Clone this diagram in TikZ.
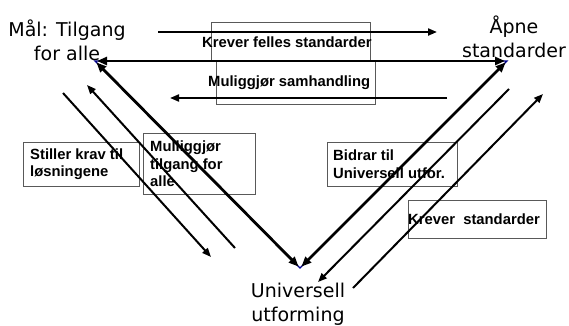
\documentclass[tikz,border=0pt]{standalone}
\usepackage{fontspec}
\setmainfont{Liberation Sans}
\newfontfamily\placefont{DejaVu Sans}
\usetikzlibrary{arrows.meta}

\begin{document}
\begin{tikzpicture}[x=1pt,y=-1pt,
  box/.style={draw=black!65,line width=0.9pt,inner sep=0pt},
  boxtext/.style={anchor=west,align=left,inner sep=0pt,font=\bfseries\fontsize{14.8}{17.5}\selectfont},
  place/.style={align=center,inner sep=0pt,font=\placefont\fontsize{19}{24.5}\selectfont},
  link/.style={line width=2.8pt,shorten <=2pt,shorten >=2pt,
    {Triangle[length=10pt,width=8pt]}-{Triangle[length=10pt,width=8pt]}},
  flow/.style={line width=2pt,-{Triangle[length=9pt,width=7pt]}}]
  \useasboundingbox (0,0) rectangle (569,325);
  \coordinate (maal) at (95,61);
  \coordinate (aapne) at (507,61);
  \coordinate (univ) at (300,268);
  \node[place] (maaltxt) at (67,40.5) {Mål: Tilgang\\for alle};
  \node[place] (aapnetxt) at (514,37) {Åpne\\standarder};
  \node[place] (univtxt) at (298,304) {Universell\\utforming};
  \node[box,minimum width=159pt,minimum height=38pt] (kfs) at (290.5,41) {};
  \node[box,minimum width=159pt,minimum height=43pt] (msh) at (295.5,82.5) {};
  \node[box,minimum width=116pt,minimum height=44pt] (skl) at (81,164) {};
  \node[box,minimum width=112pt,minimum height=61pt] (mtf) at (199,163.5) {};
  \node[box,minimum width=130pt,minimum height=44pt] (bid) at (392,164) {};
  \node[box,minimum width=138pt,minimum height=38pt] (ks) at (477,219) {};
  \node[boxtext] at (202,42) {Krever felles standarder};
  \node[boxtext] at (208,83) {Muliggjør samhandling};
  \node[boxtext] at (30,164) {Stiller krav til\\løsningene};
  \node[boxtext] at (150,164) {Mulliggjør\\tilgang for\\alle};
  \node[boxtext] at (333,164) {Bidrar til\\Universell utfor.};
  \node[boxtext] at (408,219) {Krever~~standarder};
  \draw[blue!55!black,line width=1.2pt] (maal) -- (univ) -- (aapne) -- cycle;
  \draw[link] (maal) -- (aapne);
  \draw[link] (maal) -- (univ);
  \draw[link] (aapne) -- (univ);
  \coordinate (t1) at (158,32);
  \coordinate (t2) at (437,32);
  \coordinate (m1) at (447,98);
  \coordinate (m2) at (170,98);
  \coordinate (l1a) at (63,93);
  \coordinate (l1b) at (211,257);
  \coordinate (l2a) at (235,248);
  \coordinate (l2b) at (87,85);
  \coordinate (r1a) at (509,89);
  \coordinate (r1b) at (318,282);
  \coordinate (r2a) at (353,288);
  \coordinate (r2b) at (543,94);
  \draw[flow] (t1) -- (t2);
  \draw[flow] (m1) -- (m2);
  \draw[flow] (l1a) -- (l1b);
  \draw[flow] (l2a) -- (l2b);
  \draw[flow] (r1a) -- (r1b);
  \draw[flow] (r2a) -- (r2b);
\end{tikzpicture}
\end{document}
